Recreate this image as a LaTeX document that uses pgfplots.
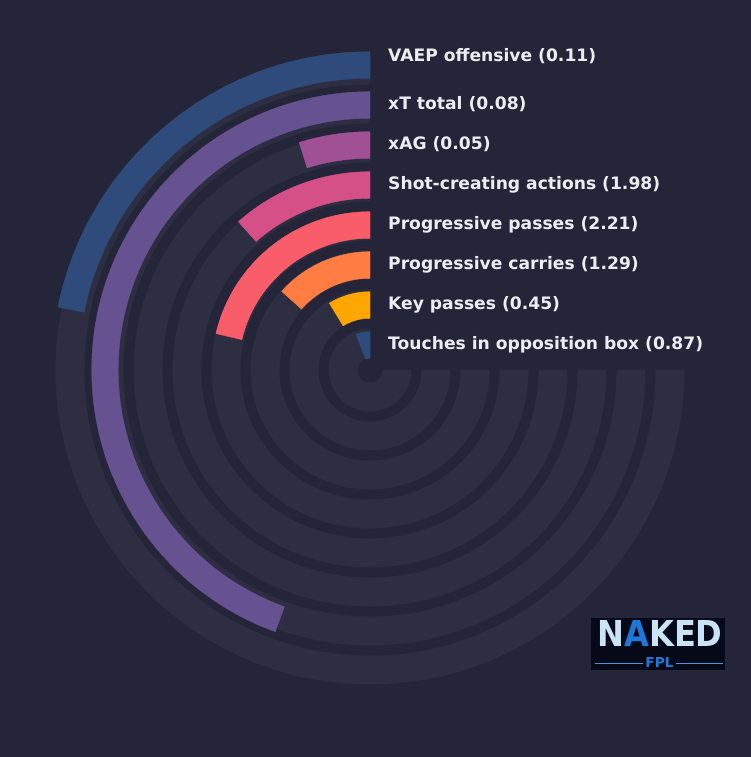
\documentclass[border=0pt]{standalone}
\usepackage{fontspec}
\setmainfont{DejaVu Sans}
\usepackage{xcolor}
\usepackage{pgfplots}
\usepackage{pgfplotstable}
\pgfplotsset{compat=1.18}

\definecolor{bgc}{RGB}{37,37,57}
\definecolor{ringc}{RGB}{46,46,67}
\definecolor{txtc}{RGB}{236,236,241}
\definecolor{cVAEP}{HTML}{2F4B7C}
\definecolor{cxT}{HTML}{665191}
\definecolor{cxAG}{HTML}{A05195}
\definecolor{cSCA}{HTML}{D45087}
\definecolor{cPP}{HTML}{F95D6A}
\definecolor{cPC}{HTML}{FF7C43}
\definecolor{cKP}{HTML}{FFA600}
\definecolor{cTouch}{HTML}{2F4B7C}
\definecolor{logobg}{RGB}{5,9,24}
\definecolor{logolight}{RGB}{200,228,245}
\definecolor{logoblue}{RGB}{30,120,220}

\pgfdeclareplotmark{nothing}{}

% ring radius (bp), share of the 270 degree track (%), colour
\pgfplotstableread{
rad  pct   col
305  29.1  cVAEP
265  59.3  cxT
225  6.4   cxAG
185  15.4  cSCA
145  28.4  cPP
105  17.9  cPC
65   11.6  cKP
25   8.0   cTouch
}\bars

% background tracks
\pgfplotstableread{
rad  pct   col
300  100   ringc
261  100   ringc
222  100   ringc
183  100   ringc
144  100   ringc
105  100   ringc
66   100   ringc
27   100   ringc
}\tracks

\pgfplotsset{
  ringbar/.style={
    scatter, only marks, mark=nothing,
    point meta=explicit symbolic,
    visualization depends on={\thisrow{rad} \as \barrad},
    visualization depends on={\thisrow{pct} \as \barpct},
    scatter/@pre marker code/.code={%
      \pgfscope
      \pgfmathsetmacro\sw{2.7*\barpct}%
      \pgfmathsetmacro\ro{\barrad+#1}%
      \pgfmathsetmacro\ri{\barrad-#1}%
      \pgfmathsetmacro\ys{#1}%
      \pgfmathsetmacro\xe{\ri*cos(90+\sw)}%
      \pgfmathsetmacro\ye{\ri*sin(90+\sw)-\barrad}%
      \fill[\pgfplotspointmeta] (0bp,\ys bp) arc[start angle=90,delta angle=\sw,radius=\ro bp]
        -- (\xe bp,\ye bp) arc[start angle=90+\sw,delta angle=-\sw,radius=\ri bp] -- cycle;
    },
    scatter/@post marker code/.code={\endpgfscope},
  },
}
\tikzset{
  lbl/.style={anchor=base west, inner sep=0pt, text=txtc,
    font=\fontsize{17.15bp}{20bp}\selectfont\bfseries},
}

\begin{document}
\begin{tikzpicture}
\begin{axis}[
  x=1bp, y=1bp,
  xmin=-370, xmax=381, ymin=-387, ymax=370,
  axis line style={draw=none},
  xtick=\empty, ytick=\empty,
  axis background/.style={fill=bgc},
  clip=false,
]
\addplot[ringbar=14.2] table[x expr=0, y=rad, meta=col] {\tracks};
\addplot[ringbar=13.3] table[x expr=0, y=rad, meta=col] {\bars};

\node[lbl] at (axis cs:18,308) {VAEP offensive (0.11)};
\node[lbl] at (axis cs:18,260) {xT total (0.08)};
\node[lbl] at (axis cs:18,220) {xAG (0.05)};
\node[lbl] at (axis cs:18,180) {Shot-creating actions (1.98)};
\node[lbl] at (axis cs:18,140) {Progressive passes (2.21)};
\node[lbl] at (axis cs:18,100) {Progressive carries (1.29)};
\node[lbl] at (axis cs:18,60) {Key passes (0.45)};
\node[lbl] at (axis cs:18,20) {Touches in opposition box (0.87)};

% logo
\fill[logobg] (axis cs:221,-248) rectangle (axis cs:355,-300);
\node[inner sep=0pt, text=logolight, xscale=0.9,
  font=\fontsize{35.7bp}{36bp}\selectfont\bfseries] at (axis cs:290,-263.7)
  {N\textcolor{logoblue}{A}KED};
\draw[logoblue!80, line width=0.8bp] (axis cs:225,-293) -- (axis cs:273,-293);
\draw[logoblue!80, line width=0.8bp] (axis cs:306,-293) -- (axis cs:353,-293);
\node[inner sep=0pt, text=logoblue,
  font=\fontsize{13.7bp}{14bp}\selectfont\bfseries] at (axis cs:289.5,-293) {FPL};
\end{axis}
\end{tikzpicture}
\end{document}
